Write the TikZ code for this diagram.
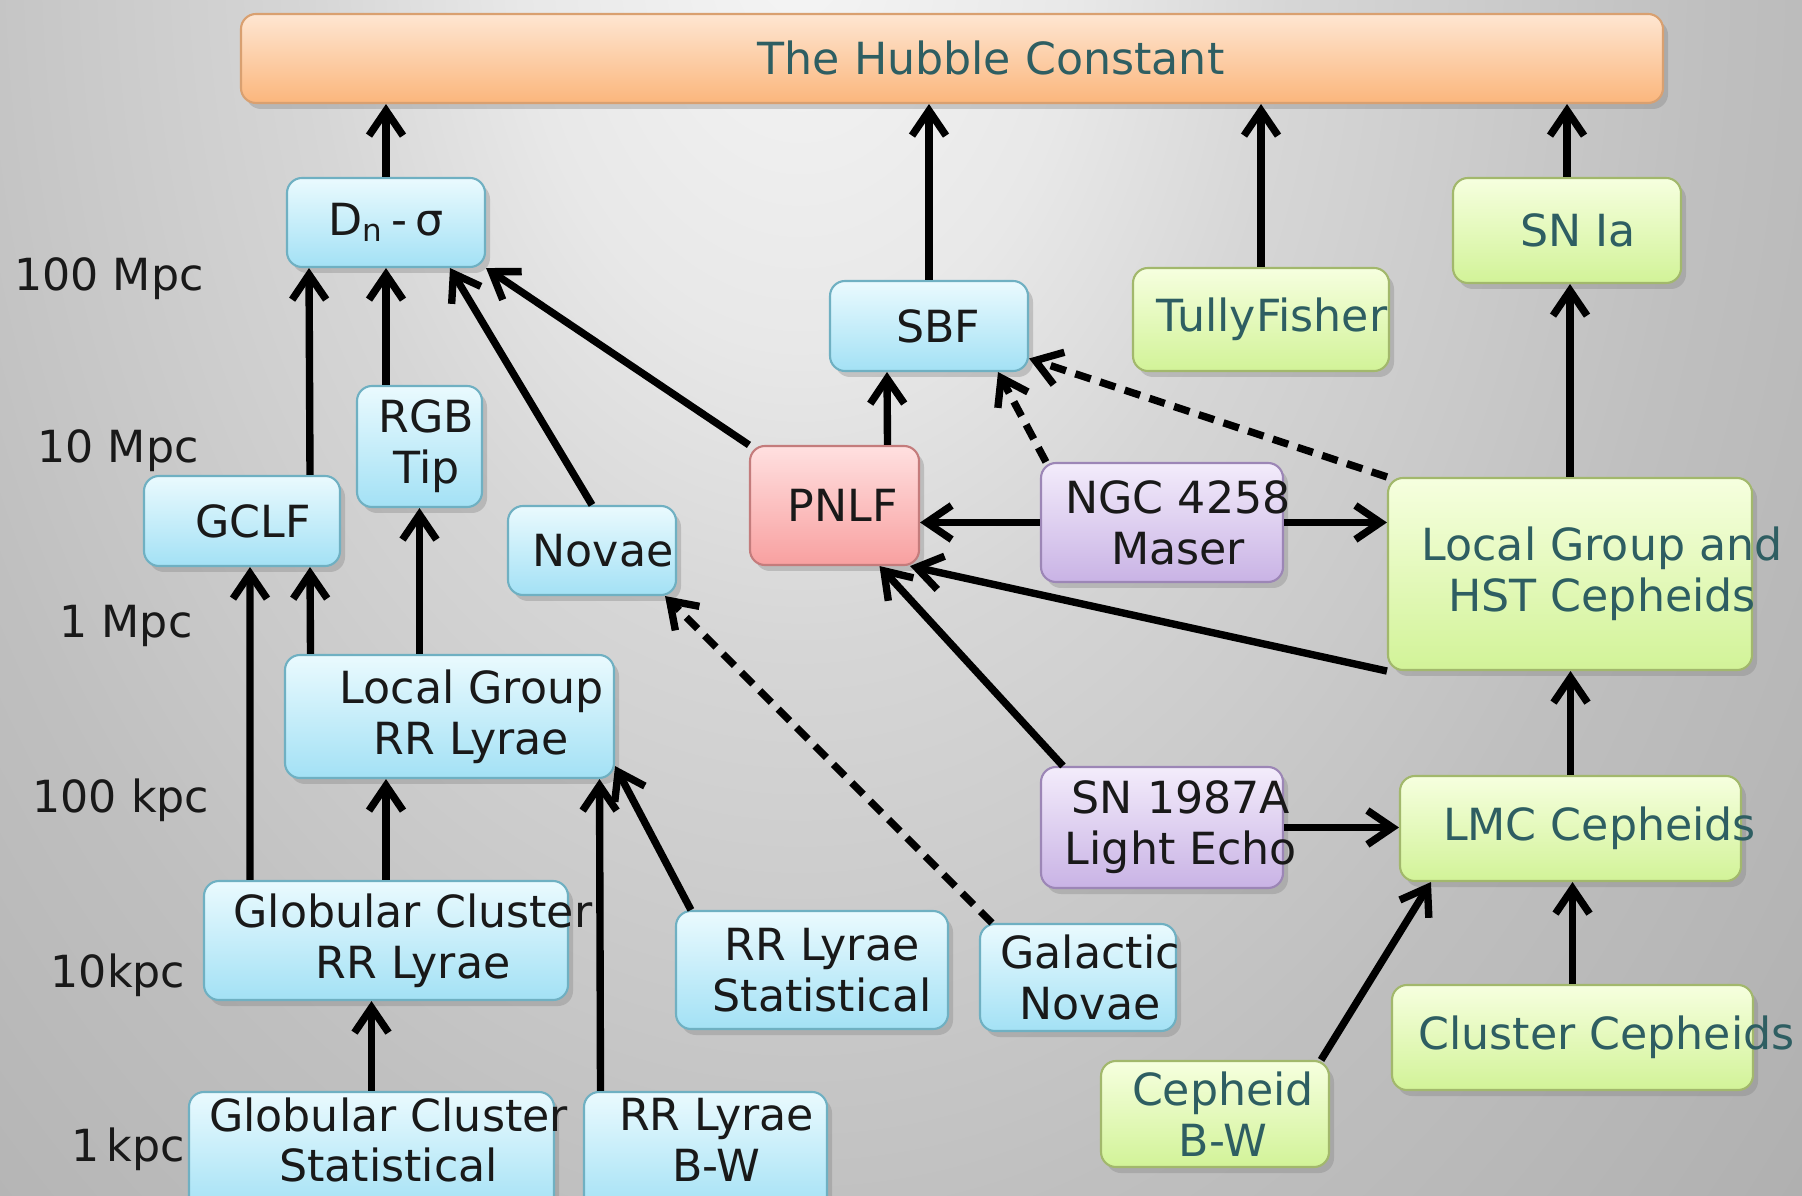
\documentclass[tikz,border=0pt]{standalone}
\usepackage{fontspec}
\setmainfont{DejaVu Sans}
\usetikzlibrary{arrows.meta,shadows}

\definecolor{bgA}{gray}{0.96}
\definecolor{bgB}{gray}{0.91}
\definecolor{bgC}{gray}{0.84}
\definecolor{bgD}{gray}{0.75}
\definecolor{bgE}{gray}{0.69}
\definecolor{bgF}{gray}{0.63}
\definecolor{bgG}{gray}{0.55}
\definecolor{bgH}{gray}{0.48}
\pgfdeclareradialshading{backdrop}{\pgfpoint{0bp}{0bp}}{color(0bp)=(bgA); color(4bp)=(bgB); color(7bp)=(bgC); color(13bp)=(bgD); color(19bp)=(bgE); color(25bp)=(bgF); color(32bp)=(bgG); color(40bp)=(bgH); color(50bp)=(bgH)}

\definecolor{bluetop}{HTML}{EAFAFE}
\definecolor{bluebot}{HTML}{A3E1F5}
\definecolor{blueline}{HTML}{6FB0C2}
\definecolor{greentop}{HTML}{F6FFDF}
\definecolor{greenbot}{HTML}{D2F398}
\definecolor{greenline}{HTML}{A2B86C}
\definecolor{purpletop}{HTML}{F3ECFB}
\definecolor{purplebot}{HTML}{C9B3E5}
\definecolor{purpleline}{HTML}{9C86B6}
\definecolor{redtop}{HTML}{FFE0E0}
\definecolor{redbot}{HTML}{F8A0A0}
\definecolor{redline}{HTML}{C47C7C}
\definecolor{orangetop}{HTML}{FEE6D2}
\definecolor{orangebot}{HTML}{FBB67C}
\definecolor{orangeline}{HTML}{D9A070}
\definecolor{tealtext}{HTML}{2E5E62}

\tikzset{
  box/.style={rectangle, rounded corners=1.5mm, line width=0.6pt, inner sep=0pt,
    drop shadow={shadow xshift=0.5mm, shadow yshift=-0.6mm, opacity=0.35}},
  bluebox/.style={box, draw=blueline, top color=bluetop, bottom color=bluebot},
  greenbox/.style={box, draw=greenline, top color=greentop, bottom color=greenbot},
  purplebox/.style={box, draw=purpleline, top color=purpletop, bottom color=purplebot},
  redbox/.style={box, draw=redline, top color=redtop, bottom color=redbot},
  orangebox/.style={box, draw=orangeline, top color=orangetop, bottom color=orangebot},
  txt/.style={inner sep=0pt, align=center, text=black!90, font=\fontsize{12.6}{14.5}\selectfont},
  gtxt/.style={txt, text=tealtext},
  dist/.style={inner sep=0pt, anchor=base, text=black!90, font=\fontsize{12.6}{14.5}\selectfont},
  arr/.style={-{Straight Barb[length=2.5mm,width=3.4mm]}, line width=2.1pt},
  dasharr/.style={arr, dash pattern=on 4.6pt off 2.8pt}
}

\begin{document}
\begin{tikzpicture}
\useasboundingbox (0,0) rectangle (18.02,11.95);
\clip (0,0) rectangle (18.02,11.95);
\shade[shading=backdrop] (-9.5,-12.5) rectangle (25.5,37.5);

% distance scale
\node[dist] (d100M) at (1.09,9.04) {100 Mpc};
\node[dist] (d10M) at (1.18,7.32) {10 Mpc};
\node[dist] (d1M) at (1.26,5.57) {1 Mpc};
\node[dist] (d100k) at (1.21,3.83) {100 kpc};
\node[dist] (d10k) at (1.18,2.08) {10kpc};
\node[dist] (d1k) at (1.28,0.34) {1\,kpc};

% boxes
\node[orangebox, minimum width=14.22cm, minimum height=0.89cm] (hub) at (9.52,11.365) {};
\node[bluebox, minimum width=1.98cm, minimum height=0.89cm] (dn) at (3.86,9.725) {};
\node[bluebox, minimum width=1.25cm, minimum height=1.21cm] (rgb) at (4.195,7.485) {};
\node[bluebox, minimum width=1.96cm, minimum height=0.90cm] (gclf) at (2.42,6.74) {};
\node[bluebox, minimum width=1.68cm, minimum height=0.89cm] (novae) at (5.92,6.445) {};
\node[redbox, minimum width=1.69cm, minimum height=1.19cm] (pnlf) at (8.345,6.895) {};
\node[bluebox, minimum width=1.98cm, minimum height=0.90cm] (sbf) at (9.29,8.69) {};
\node[greenbox, minimum width=2.56cm, minimum height=1.03cm] (tf) at (12.61,8.755) {};
\node[greenbox, minimum width=2.28cm, minimum height=1.05cm] (snia) at (15.67,9.645) {};
\node[purplebox, minimum width=2.42cm, minimum height=1.19cm] (ngc) at (11.62,6.725) {};
\node[greenbox, minimum width=3.64cm, minimum height=1.92cm] (lghst) at (15.70,6.21) {};
\node[bluebox, minimum width=3.29cm, minimum height=1.23cm] (lgrr) at (4.495,4.785) {};
\node[purplebox, minimum width=2.42cm, minimum height=1.21cm] (sn87) at (11.62,3.675) {};
\node[greenbox, minimum width=3.41cm, minimum height=1.05cm] (lmc) at (15.705,3.665) {};
\node[bluebox, minimum width=3.64cm, minimum height=1.19cm] (gcrr) at (3.86,2.545) {};
\node[bluebox, minimum width=2.72cm, minimum height=1.18cm] (rrs) at (8.12,2.25) {};
\node[bluebox, minimum width=1.96cm, minimum height=1.07cm] (gn) at (10.78,2.175) {};
\node[greenbox, minimum width=3.61cm, minimum height=1.05cm] (cc) at (15.725,1.575) {};
\node[greenbox, minimum width=2.28cm, minimum height=1.06cm] (cbw) at (12.15,0.81) {};
\node[bluebox, minimum width=3.65cm, minimum height=1.20cm] (gcs) at (3.715,0.43) {};
\node[bluebox, minimum width=2.43cm, minimum height=1.20cm] (rrbw) at (7.055,0.43) {};

% box texts
\node[gtxt] (hub-t) at ([xshift=3.9mm]hub.center) {The Hubble Constant};
\node[txt] (dn-t) at (dn.center) {D\textsubscript{n}\,-\,σ};
\node[txt] (rgb-t) at ([xshift=0.7mm]rgb.center) {RGB\\Tip};
\node[txt] (gclf-t) at ([xshift=1.1mm]gclf.center) {GCLF};
\node[txt] (novae-t) at ([xshift=1.1mm]novae.center) {Novae};
\node[txt] (pnlf-t) at ([xshift=0.8mm]pnlf.center) {PNLF};
\node[txt] (sbf-t) at ([xshift=0.9mm]sbf.center) {SBF};
\node[gtxt] (tf-t) at ([xshift=1.1mm]tf.center) {TullyFisher};
\node[gtxt] (snia-t) at ([xshift=1.1mm]snia.center) {SN Ia};
\node[txt] (ngc-t) at ([xshift=1.6mm]ngc.center) {NGC 4258\\Maser};
\node[gtxt] (lghst-t) at ([xshift=3.2mm]lghst.center) {Local Group and\\HST Cepheids};
\node[txt] (lgrr-t) at ([xshift=2.2mm]lgrr.center) {Local Group\\RR Lyrae};
\node[txt] (sn87-t) at ([xshift=1.9mm]sn87.center) {SN 1987A\\Light Echo};
\node[gtxt] (lmc-t) at ([xshift=2.9mm]lmc.center) {LMC Cepheids};
\node[txt] (gcrr-t) at ([xshift=2.7mm]gcrr.center) {Globular Cluster\\RR Lyrae};
\node[txt] (rrs-t) at ([xshift=1mm]rrs.center) {RR Lyrae\\Statistical};
\node[txt] (gn-t) at ([xshift=1.2mm]gn.center) {Galactic\\Novae};
\node[gtxt] (cc-t) at ([xshift=3.4mm]cc.center) {Cluster Cepheids};
\node[gtxt] (cbw-t) at ([xshift=0.8mm]cbw.center) {Cepheid\\B-W};
\node[txt] (gcs-t) at ([xshift=1.7mm,yshift=1.2mm]gcs.center) {Globular Cluster\\Statistical};
\node[txt] (rrbw-t) at ([xshift=1.1mm,yshift=1.2mm]rrbw.center) {RR Lyrae\\B-W};

% connectors
\draw[arr] (dn.north) -- (dn.north |- hub.south);
\draw[arr] (sbf.north) -- (sbf.north |- hub.south);
\draw[arr] (tf.north) -- (tf.north |- hub.south);
\draw[arr] (snia.north) -- (snia.north |- hub.south);
\draw[arr] ([xshift=6.8mm]gclf.north) -- ([xshift=-7.7mm]dn.south);
\draw[arr] (dn.south |- rgb.north) -- (dn.south);
\draw[arr] (novae.north) -- ([xshift=6.4mm]dn.south);
\draw[arr] (pnlf.north west) -- (dn.south east);
\draw[arr] ([xshift=5.3mm]pnlf.north) -- ([xshift=-4.2mm]sbf.south);
\draw[dasharr] ([xshift=0.6mm]ngc.north west) -- ([xshift=6.9mm]sbf.south);
\draw[dasharr] (lghst.north west) -- (sbf.-18);
\draw[arr] (ngc.west) -- (ngc.west -| pnlf.east);
\draw[arr] (ngc.east) -- (ngc.east -| lghst.west);
\draw[arr] (lghst.south west) -- ([xshift=-1mm]pnlf.south east);
\draw[arr] ([xshift=2.3mm]sn87.north west) -- ([xshift=4.5mm]pnlf.south);
\draw[arr] (sn87.east) -- (sn87.east -| lmc.west);
\draw[arr] (lmc.north) -- (lmc.north |- lghst.south);
\draw[arr] (lghst.north) -- (lghst.north |- snia.south);
\draw[arr] (cc.north) -- (cc.north |- lmc.south);
\draw[arr] ([xshift=-0.9mm]cbw.north east) -- ([xshift=3.2mm]lmc.south west);
\draw[dasharr] ([xshift=1.3mm]gn.north west) -- ([xshift=-1.2mm]novae.south east);
\draw[arr] ([xshift=-13.9mm]lgrr.north) -- ([xshift=6.8mm]gclf.south);
\draw[arr] (rgb.south |- lgrr.north) -- (rgb.south);
\draw[arr] ([xshift=-13.6mm]gcrr.north) -- ([xshift=0.8mm]gclf.south);
\draw[arr] (gcrr.north) -- (gcrr.north |- lgrr.south);
\draw[arr] ([xshift=-10.5mm]rrbw.north) -- ([xshift=15mm]lgrr.south);
\draw[arr] ([xshift=1.6mm]rrs.north west) -- ([yshift=1.3mm]lgrr.south east);
\draw[arr] (gcs.north) -- (gcs.north |- gcrr.south);
\end{tikzpicture}
\end{document}
